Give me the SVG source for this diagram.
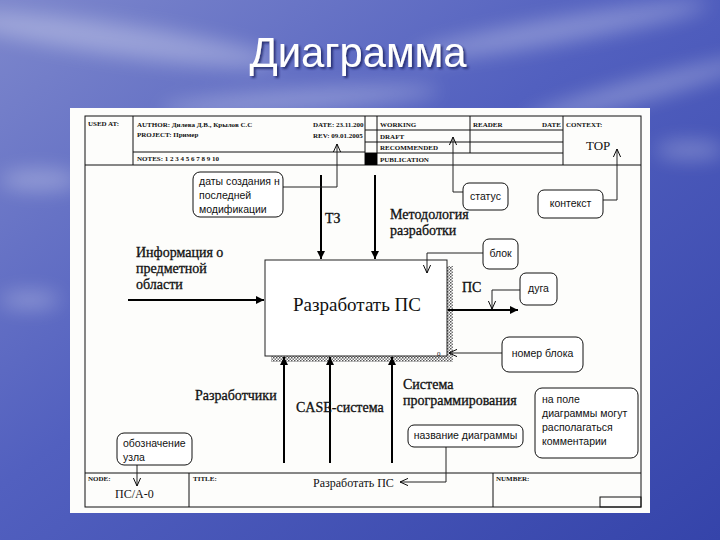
<svg xmlns="http://www.w3.org/2000/svg" width="720" height="540" viewBox="0 0 720 540">
<defs>
<linearGradient id="sky" x1="0" y1="0" x2="1" y2="1">
<stop offset="0" stop-color="#7d87cc"/>
<stop offset="0.45" stop-color="#5260bf"/>
<stop offset="1" stop-color="#3544aa"/>
</linearGradient>
<filter id="blur" x="-50%" y="-50%" width="200%" height="200%"><feGaussianBlur stdDeviation="10"/></filter>
<filter id="tshadow" x="-10%" y="-10%" width="130%" height="140%"><feDropShadow dx="2" dy="2" stdDeviation="1" flood-color="#1a2060" flood-opacity="0.8"/></filter>
<pattern id="hatch" width="3" height="3" patternUnits="userSpaceOnUse">
<rect width="3" height="3" fill="#ffffff"/>
<rect width="1.5" height="1.5" fill="#555"/>
<rect x="1.5" y="1.5" width="1.5" height="1.5" fill="#777"/>
</pattern>
<marker id="fill" viewBox="0 0 10 10" refX="10" refY="5" markerWidth="9" markerHeight="8" markerUnits="userSpaceOnUse" orient="auto">
<path d="M0,0 L10,5 L0,10 z" fill="#000"/>
</marker>
<marker id="open" viewBox="0 0 10 10" refX="10" refY="5" markerWidth="9" markerHeight="8" markerUnits="userSpaceOnUse" orient="auto">
<path d="M0,0.5 L10,5 L0,9.5" fill="none" stroke="#000" stroke-width="1.2"/>
</marker>
</defs>
<style>
.hdr{font-family:"Liberation Serif",serif;font-size:7px;font-weight:bold;fill:#111}
.lbl{font-family:"Liberation Serif",serif;font-size:14px;fill:#111;stroke:#111;stroke-width:0.3}
.co{font-family:"Liberation Sans",Arial,sans-serif;font-size:10.5px;fill:#111}
.cobox{fill:#fff;stroke:#111;stroke-width:1}
.ln{fill:none;stroke:#111;stroke-width:1}
.thick{fill:none;stroke:#000;stroke-width:2}
.thin{fill:none;stroke:#222;stroke-width:1}
</style>
<!-- background -->
<rect width="720" height="540" fill="url(#sky)"/>
<g filter="url(#blur)" fill="#ffffff" opacity="0.3">
<ellipse cx="120" cy="40" rx="160" ry="16" transform="rotate(8 120 40)"/>
<ellipse cx="300" cy="100" rx="140" ry="10" transform="rotate(-4 300 100)"/>
<ellipse cx="560" cy="30" rx="150" ry="12" transform="rotate(-10 560 30)"/>
<ellipse cx="640" cy="90" rx="120" ry="10" transform="rotate(-15 640 90)"/>
<ellipse cx="40" cy="180" rx="40" ry="10"/>
<ellipse cx="30" cy="300" rx="30" ry="8"/>
<ellipse cx="690" cy="150" rx="35" ry="8"/>
</g>
<text x="358" y="67" text-anchor="middle" font-family="'Liberation Sans',Arial,sans-serif" font-size="43" fill="#ffffff" textLength="217" lengthAdjust="spacingAndGlyphs" filter="url(#tshadow)">Диаграмма</text>
<!-- paper -->
<rect x="70" y="108" width="580" height="405" fill="#fdfdfb"/>
<!-- frame -->
<g id="frame">
<rect x="85" y="116" width="556" height="391" class="ln"/>
<line x1="85" y1="165" x2="641" y2="165" class="ln"/>
<line x1="133" y1="116" x2="133" y2="165" class="ln"/>
<line x1="365" y1="116" x2="365" y2="165" class="ln"/>
<line x1="377" y1="116" x2="377" y2="165" class="ln"/>
<line x1="470" y1="116" x2="470" y2="153" class="ln"/>
<line x1="563" y1="116" x2="563" y2="165" class="ln"/>
<line x1="365" y1="130" x2="563" y2="130" class="ln"/>
<line x1="365" y1="142" x2="563" y2="142" class="ln"/>
<line x1="365" y1="153" x2="563" y2="153" class="ln"/>
<rect x="365" y="153" width="12" height="12" fill="#000"/>
<line x1="133" y1="152" x2="365" y2="152" class="ln" stroke-width="0.6"/>
<text x="88" y="126" class="hdr">USED AT:</text>
<text x="137" y="127" class="hdr">AUTHOR: Дилева Д.В., Крылов С.С</text>
<text x="137" y="137" class="hdr">PROJECT: Пример</text>
<text x="137" y="161" class="hdr">NOTES: 1 2 3 4 5 6 7 8 9 10</text>
<text x="313" y="127" class="hdr">DATE: 23.11.200</text>
<text x="313" y="138" class="hdr">REV: 09.01.2005</text>
<text x="380" y="127" class="hdr">WORKING</text>
<text x="380" y="139" class="hdr">DRAFT</text>
<text x="380" y="150" class="hdr">RECOMMENDED</text>
<text x="380" y="162" class="hdr">PUBLICATION</text>
<text x="473" y="127" class="hdr">READER</text>
<text x="542" y="127" class="hdr">DATE</text>
<text x="566" y="127" class="hdr">CONTEXT:</text>
<text x="586" y="150" font-family="'Liberation Serif',serif" font-size="13" fill="#111">TOP</text>
<line x1="85" y1="473" x2="641" y2="473" class="ln"/>
<line x1="189" y1="473" x2="189" y2="507" class="ln"/>
<line x1="493" y1="473" x2="493" y2="507" class="ln"/>
<rect x="600" y="497" width="41" height="10" class="ln"/>
<text x="88" y="481" class="hdr">NODE:</text>
<text x="193" y="481" class="hdr">TITLE:</text>
<text x="496" y="481" class="hdr">NUMBER:</text>
<text x="115" y="498" font-family="'Liberation Serif',serif" font-size="12" fill="#111">ПС/А-0</text>
<text x="313" y="487" font-family="'Liberation Serif',serif" font-size="12" fill="#111">Разработать ПС</text>
</g>
<!-- main node -->
<g id="node-A0">
<rect x="447" y="266" width="6" height="96" fill="url(#hatch)"/>
<rect x="271" y="356" width="182" height="6" fill="url(#hatch)"/>
<rect x="265" y="260" width="182" height="96" fill="#fff" stroke="#222" stroke-width="1"/>
<text x="357" y="311" text-anchor="middle" font-family="'Liberation Serif',serif" font-size="19" fill="#111">Разработать ПС</text>
<text x="437" y="356" font-family="'Liberation Serif',serif" font-size="7" fill="#111">0</text>
</g>
<!-- connectors -->
<g id="connectors">
<path d="M128,300 L264,300" class="thick" marker-end="url(#fill)"/>
<path d="M321,175 L321,259" class="thick" marker-end="url(#fill)"/>
<path d="M375,175 L375,259" class="thick" marker-end="url(#fill)"/>
<path d="M284,463 L284,357" class="thick" marker-end="url(#fill)"/>
<path d="M330,463 L330,357" class="thick" marker-end="url(#fill)"/>
<path d="M392,463 L392,357" class="thick" marker-end="url(#fill)"/>
<path d="M448,310 L518,310" class="thick" marker-end="url(#fill)"/>
<path d="M283,187 L337,187 L337,144" class="thin" marker-end="url(#open)"/>
<path d="M463,192 L453,192 L453,137" class="thin" marker-end="url(#open)"/>
<path d="M603,200 L617,200 L617,149" class="thin" marker-end="url(#open)"/>
<path d="M483,253 L427,253 L427,273" class="thin" marker-end="url(#open)"/>
<path d="M520,290 L492,290 L492,309" class="thin" marker-end="url(#open)"/>
<path d="M502,353 L449,353" class="thin" marker-end="url(#open)"/>
<path d="M446,447 L446,482 L400,482" class="thin" marker-end="url(#open)"/>
<path d="M137,465 L137,486" class="thin" marker-end="url(#open)"/>
</g>
<!-- arrow labels -->
<g id="labels">
<text class="lbl"><tspan x="136" y="257">Информация о</tspan><tspan x="136" y="273">предметной</tspan><tspan x="136" y="289">области</tspan></text>
<text x="325" y="223" class="lbl">ТЗ</text>
<text class="lbl"><tspan x="390" y="219">Методология</tspan><tspan x="390" y="235">разработки</tspan></text>
<text x="462" y="292" class="lbl">ПС</text>
<text x="195" y="400" class="lbl">Разработчики</text>
<text x="296" y="412" class="lbl">CASE-система</text>
<text class="lbl"><tspan x="403" y="389">Система</tspan><tspan x="403" y="405">программирования</tspan></text>
</g>
<!-- callouts -->
<g id="callout-dates">
<rect x="193" y="172" width="90" height="45" rx="7" class="cobox"/>
<text class="co"><tspan x="199" y="185">даты создания н</tspan><tspan x="199" y="199">последней</tspan><tspan x="199" y="213">модификации</tspan></text>
</g>
<g id="callout-status">
<rect x="463" y="183" width="45" height="27" rx="6" class="cobox"/>
<text x="485.5" y="200" text-anchor="middle" class="co">статус</text>
</g>
<g id="callout-context">
<rect x="538" y="190" width="65" height="28" rx="6" class="cobox"/>
<text x="570.5" y="207" text-anchor="middle" class="co">контекст</text>
</g>
<g id="callout-block">
<rect x="483" y="239" width="35" height="30" rx="6" class="cobox"/>
<text x="500.5" y="257" text-anchor="middle" class="co">блок</text>
</g>
<g id="callout-arc">
<rect x="520" y="273" width="37" height="32" rx="6" class="cobox"/>
<text x="538.5" y="292" text-anchor="middle" class="co">дуга</text>
</g>
<g id="callout-blocknum">
<rect x="502" y="337" width="81" height="35" rx="7" class="cobox"/>
<text x="542.5" y="357" text-anchor="middle" class="co">номер блока</text>
</g>
<g id="callout-comments">
<rect x="535" y="388" width="103" height="70" rx="7" class="cobox"/>
<text class="co"><tspan x="542" y="403">на поле</tspan><tspan x="542" y="417">диаграммы могут</tspan><tspan x="542" y="431">располагаться</tspan><tspan x="542" y="445">комментарии</tspan></text>
</g>
<g id="callout-title">
<rect x="408" y="425" width="115" height="22" rx="6" class="cobox"/>
<text x="465.5" y="439" text-anchor="middle" class="co">название диаграммы</text>
</g>
<g id="callout-node">
<rect x="117" y="433" width="75" height="32" rx="7" class="cobox"/>
<text class="co"><tspan x="123" y="447">обозначение</tspan><tspan x="123" y="461">узла</tspan></text>
</g>
</svg>
